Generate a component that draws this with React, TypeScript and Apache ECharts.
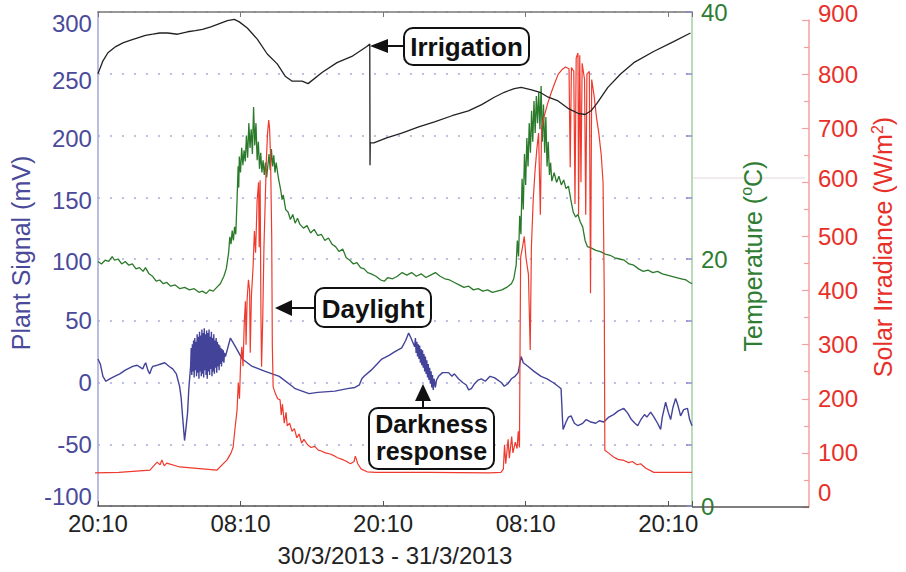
import React, { useEffect, useRef } from "react";
import * as echarts from "echarts";

const FONT = '"Liberation Sans", Arial, Helvetica, sans-serif';

// ---- axis ticks / labels ----
const timeTicks = [0, 12, 24, 36, 48];
const timeLabels = ["20:10", "08:10", "20:10", "08:10", "20:10"];
const xAxisTitle = "30/3/2013 - 31/3/2013";
const plantRange = [-100, 300];
const tempRange = [0, 40];
const solarRange = [0, 900];

// ---- series: [hours since 20:10, value] ----
const blackSignal: [number, number][] = [
  [0, 250], [0.4, 260], [0.84, 267], [1.5, 272], [2.1, 275], [2.7, 277], [3.35, 279], [4.0, 281],
  [4.61, 282], [5.2, 283], [5.87, 283], [6.71, 282], [7.54, 284], [8.2, 285], [8.8, 286], [9.5, 288],
  [10.06, 290], [10.9, 293], [11.48, 294], [11.9, 292], [12.57, 287], [13.41, 278], [14.25, 266],
  [15.09, 258], [15.76, 248], [16.35, 244], [17.18, 244], [17.69, 242], [18.86, 251], [20.12, 259],
  [21.37, 264], [22.63, 272], [22.88, 274], [22.9, 176], [22.92, 194], [23.22, 194], [24.3, 198],
  [25.57, 202], [27.0, 207], [28.33, 211], [29.8, 216], [31.18, 220], [32.3, 225], [33.36, 231],
  [34.2, 235], [35.04, 238], [35.62, 239], [36.5, 237], [37.2, 235], [37.9, 231], [38.73, 228],
  [39.56, 222], [40.4, 218], [41.0, 217], [41.5, 220], [42.0, 226], [42.92, 239], [44.01, 250],
  [45.1, 259], [46.77, 268], [48.45, 276], [49.87, 283],
];

const temperature: [number, number][] = [
  [0, 19.8], [0.3, 19.6], [0.6, 19.9], [0.9, 19.8], [1.2, 20.2], [1.4, 19.9], [1.7, 20.0], [2.0, 19.6],
  [2.3, 19.8], [2.6, 19.5], [2.9, 19.6], [3.2, 19.2], [3.5, 19.3], [3.8, 19.0], [4.0, 19.3], [4.3, 18.8],
  [4.6, 18.6], [4.9, 18.2], [5.2, 18.3], [5.5, 18.0], [5.8, 18.1], [6.1, 17.8], [6.5, 17.9], [6.9, 17.6],
  [7.3, 17.7], [7.7, 17.5], [8.1, 17.6], [8.5, 17.3], [8.8, 17.4], [9.1, 17.2], [9.4, 17.5], [9.7, 17.4],
  [10.0, 17.7], [10.3, 18.0], [10.6, 18.6], [10.8, 19.2], [11.0, 20.5], [11.1, 21.8], [11.2, 21.2],
  [11.3, 22.3], [11.4, 21.5], [11.5, 22.6], [11.6, 22.0], [11.7, 24.5], [11.8, 27.5], [11.85, 25.8],
  [11.9, 28.3], [12.0, 27.0], [12.1, 29.0], [12.2, 27.6], [12.3, 28.8], [12.4, 27.9], [12.5, 30.0],
  [12.6, 28.2], [12.7, 31.0], [12.8, 29.0], [12.9, 30.5], [13.0, 28.5], [13.1, 32.3], [13.2, 29.2],
  [13.3, 31.0], [13.4, 28.0], [13.5, 29.5], [13.6, 27.3], [13.7, 28.6], [13.8, 27.0], [13.9, 28.0],
  [14.0, 26.8], [14.1, 27.8], [14.2, 26.6], [14.4, 28.5], [14.5, 27.2], [14.6, 28.9], [14.7, 27.5],
  [14.8, 28.4], [14.9, 27.0], [15.0, 27.8], [15.2, 26.5], [15.4, 25.5], [15.5, 24.8], [15.6, 25.2],
  [15.8, 24.0], [16.0, 23.8], [16.2, 23.2], [16.4, 23.6], [16.6, 22.9], [16.8, 23.3], [17.0, 22.8],
  [17.3, 22.5], [17.6, 22.7], [17.9, 22.1], [18.2, 22.4], [18.5, 21.9], [18.8, 22.0], [19.1, 21.5],
  [19.4, 21.7], [19.7, 21.2], [20.0, 21.0], [20.3, 20.6], [20.6, 20.8], [20.9, 20.1], [21.2, 19.9],
  [21.5, 19.6], [21.8, 19.7], [22.1, 19.3], [22.4, 19.2], [22.7, 18.9], [23.0, 18.8], [23.4, 18.6],
  [23.8, 18.3], [24.1, 18.2], [24.4, 18.5], [24.8, 18.4], [25.2, 18.6], [25.6, 18.9], [26.0, 18.7],
  [26.4, 18.9], [26.8, 18.6], [27.2, 18.8], [27.6, 18.5], [28.0, 18.7], [28.4, 18.9], [28.8, 18.6],
  [29.2, 18.4], [29.6, 18.3], [30.0, 18.1], [30.4, 17.9], [30.8, 17.7], [31.2, 17.8], [31.6, 17.5],
  [32.0, 17.6], [32.4, 17.4], [32.8, 17.5], [33.2, 17.3], [33.6, 17.4], [34.0, 17.5], [34.4, 17.7],
  [34.8, 18.0], [35.0, 18.4], [35.2, 19.5], [35.3, 21.5], [35.4, 20.2], [35.5, 23.5], [35.6, 22.0],
  [35.7, 26.5], [35.8, 24.0], [35.9, 28.5], [36.0, 26.0], [36.1, 29.8], [36.2, 27.5], [36.3, 31.0],
  [36.4, 28.6], [36.5, 32.0], [36.6, 29.5], [36.7, 32.8], [36.8, 30.2], [36.9, 33.2], [37.0, 31.0],
  [37.1, 33.5], [37.2, 30.5], [37.3, 34.0], [37.4, 29.5], [37.5, 32.5], [37.6, 28.6], [37.7, 31.5],
  [37.8, 27.5], [37.9, 29.5], [38.0, 26.8], [38.1, 27.8], [38.2, 26.3], [38.4, 27.0], [38.6, 26.2],
  [38.8, 26.7], [39.0, 26.0], [39.2, 26.4], [39.4, 25.7], [39.6, 25.9], [39.8, 24.8], [40.0, 23.8],
  [40.2, 23.4], [40.4, 23.6], [40.6, 23.0], [40.8, 22.6], [41.0, 21.5], [41.2, 21.0], [41.5, 20.9],
  [41.9, 20.7], [42.3, 20.6], [42.7, 20.4], [43.1, 20.3], [43.5, 20.1], [43.9, 20.0], [44.3, 19.9],
  [44.7, 19.6], [45.1, 19.5], [45.5, 19.2], [45.9, 19.0], [46.3, 19.1], [46.7, 18.9], [47.1, 19.0],
  [47.5, 18.8], [47.9, 18.7], [48.3, 18.6], [48.7, 18.5], [49.1, 18.4], [49.5, 18.3], [49.8, 18.1],
  [50, 18.0],
];

const irradiance: [number, number][] = [
  [0, 63], [2.0, 64], [4.6, 68], [5.2, 83], [5.45, 78], [5.6, 87], [5.8, 76], [6.0, 81], [7.1, 74],
  [10.2, 68], [11.06, 87], [11.4, 100], [11.57, 111], [11.7, 140], [11.9, 180], [12.0, 230], [12.1, 200],
  [12.2, 270], [12.3, 296], [12.4, 260], [12.5, 340], [12.6, 380], [12.65, 300], [12.74, 383],
  [12.85, 420], [12.95, 400], [13.0, 285], [13.1, 390], [13.24, 444], [13.35, 510], [13.45, 470],
  [13.58, 567], [13.7, 600], [13.75, 480], [13.83, 604], [13.9, 350], [13.95, 259], [14.05, 350],
  [14.15, 480], [14.25, 560], [14.35, 640], [14.45, 690], [14.55, 715], [14.62, 700], [14.7, 650],
  [14.8, 500], [14.85, 300], [14.92, 222], [15.1, 210], [15.3, 200], [15.5, 198], [15.6, 170],
  [15.7, 190], [15.85, 155], [16.0, 175], [16.1, 150], [16.3, 155], [16.5, 140], [16.7, 145],
  [16.9, 128], [17.1, 135], [17.3, 118], [17.5, 125], [17.8, 115], [18.1, 110], [18.4, 112],
  [18.7, 105], [18.9, 104], [19.3, 100], [19.7, 98], [20.0, 95], [20.3, 91], [20.7, 88], [21.0, 85],
  [21.4, 80], [21.7, 84], [21.8, 94], [21.9, 88], [22.0, 80], [22.3, 70], [22.8, 65], [23.5, 64],
  [28, 64], [33.0, 63], [34.0, 64], [34.2, 70], [34.3, 115], [34.4, 80], [34.6, 125], [34.7, 90],
  [34.9, 130], [35.0, 100], [35.2, 120], [35.35, 108], [35.45, 140], [35.55, 110], [35.6, 300],
  [35.65, 462], [35.8, 480], [35.95, 500], [36.1, 460], [36.3, 430], [36.45, 290], [36.55, 480],
  [36.7, 567], [36.85, 620], [37.0, 660], [37.15, 691], [37.3, 540], [37.4, 700], [37.6, 720],
  [37.9, 745], [38.2, 765], [38.5, 783], [38.8, 800], [39.1, 808], [39.4, 813], [39.7, 810],
  [39.8, 628], [39.9, 812], [40.1, 805], [40.2, 560], [40.3, 830], [40.45, 839], [40.5, 540],
  [40.6, 835], [40.7, 600], [40.8, 820], [41.0, 790], [41.1, 540], [41.2, 800], [41.4, 805],
  [41.5, 395], [41.6, 790], [41.8, 760], [42.0, 720], [42.2, 690], [42.4, 650], [42.55, 600],
  [42.65, 400], [42.7, 105], [43.0, 100], [43.4, 93], [43.8, 88], [44.3, 86], [44.7, 82], [45.0, 84],
  [45.4, 78], [45.7, 80], [46.1, 72], [46.8, 64], [50, 64],
];

const plantSignal: [number, number][] = [
  [0, 19], [0.2, 15], [0.42, 5], [0.67, 1], [1.0, 3], [1.4, 5], [1.84, 7], [2.3, 10], [2.93, 13],
  [3.3, 14], [3.6, 12], [3.77, 11], [3.9, 14], [4.02, 16], [4.2, 10], [4.36, 7], [4.5, 11], [4.61, 13],
  [5.0, 14], [5.3, 15], [5.62, 16], [6.0, 13], [6.29, 11], [6.6, 7], [6.87, -3], [7.0, -12],
  [7.12, -27], [7.29, -47], [7.4, -38], [7.54, -25], [7.65, -5],
  [7.8, 13], [7.85, 28], [7.9, 6], [7.95, 31], [8.0, 9], [8.05, 34], [8.1, 4], [8.15, 36], [8.2, 10],
  [8.25, 33], [8.3, 5], [8.35, 39], [8.4, 8], [8.45, 37], [8.5, 3], [8.55, 41], [8.6, 9], [8.65, 38],
  [8.7, 5], [8.75, 43], [8.8, 7], [8.85, 40], [8.9, 4], [8.95, 44], [9.0, 10], [9.05, 39], [9.1, 6],
  [9.15, 42], [9.2, 3], [9.25, 40], [9.3, 9], [9.35, 43], [9.4, 6], [9.45, 37], [9.5, 11], [9.55, 41],
  [9.6, 5], [9.65, 36], [9.7, 9], [9.75, 39], [9.8, 7], [9.85, 34], [9.9, 12], [9.95, 36], [10.0, 8],
  [10.05, 33], [10.1, 13], [10.15, 31], [10.2, 10], [10.25, 30], [10.3, 15], [10.35, 28], [10.4, 13],
  [10.45, 27], [10.5, 17], [10.55, 26], [10.6, 16], [10.65, 24], [10.73, 21],
  [11.15, 36], [11.57, 29], [12.15, 19], [12.99, 13], [14.08, 9], [15.26, 5],
  [16.35, -3], [16.6, -5], [17.77, -9], [18.5, -8], [19.95, -7], [21.0, -5], [21.63, -4], [22.0, -2],
  [22.21, 3], [22.4, 5], [23.0, 10], [23.89, 19], [24.5, 22], [25.0, 25], [25.57, 28], [25.9, 34],
  [26.15, 40], [26.3, 37],
  [26.66, 29], [26.72, 36], [26.78, 24], [26.84, 33], [26.9, 21], [26.96, 31], [27.02, 19], [27.08, 30],
  [27.14, 16], [27.2, 27], [27.26, 14], [27.32, 26], [27.38, 12], [27.44, 23], [27.5, 9], [27.56, 21],
  [27.62, 7], [27.68, 18], [27.74, 4], [27.8, 15], [27.86, 2], [27.92, 12], [27.98, -1], [28.04, 9],
  [28.1, -4], [28.16, 6], [28.22, -6], [28.3, 3], [28.4, -4], [28.5, 2], [28.67, 5],
  [29.0, 8], [29.51, 8], [29.8, 5], [30.0, 7],
  [30.34, 3], [30.7, 0], [31.0, -2], [31.2, -6], [31.43, -5], [31.7, -1], [32.0, 2], [32.27, 3],
  [32.6, 1], [33.0, 5], [33.36, 4], [33.95, 0], [34.2, -3], [34.5, -1], [34.8, 3], [35.1, 5],
  [35.37, 8], [35.62, 21], [35.8, 16], [36.21, 13], [36.7, 9], [37.3, 5], [37.8, 3], [38.3, 0],
  [38.73, -3], [38.98, -5], [39.1, -30], [39.15, -38], [39.4, -32], [39.6, -28], [39.82, -27],
  [40.1, -33], [40.4, -35], [40.8, -33], [41.1, -30], [41.49, -32], [41.9, -33], [42.2, -31],
  [42.58, -32], [43.0, -28], [43.4, -26], [43.8, -23], [44.26, -21], [44.6, -25], [44.9, -30],
  [45.2, -33], [45.43, -35], [45.7, -30], [46.0, -26], [46.2, -28], [46.52, -24], [46.8, -28],
  [47.1, -33], [47.36, -38], [47.5, -28], [47.78, -16], [48.0, -24], [48.2, -30], [48.4, -20],
  [48.62, -13], [48.8, -18], [49.04, -27], [49.3, -22], [49.62, -21], [49.8, -30], [50, -35],
];

const annotations = {
  irrigation: "Irrigation",
  daylight: "Daylight",
  darkness: ["Darkness", "response"],
};

// label nudges (style only)
const plantLabelStyle: Record<string, string> = { "300": "d11", "250": "d7", "200": "d3", "150": "d3", "100": "d2", "-100": "u10" };
const solarLabelStyle: Record<string, string> = { "900": "u7", "600": "u4", "0": "u15" };

const BLUE_TXT = "#4a4a9a";
const GREEN_TXT = "#2e7d32";
const RED_TXT = "#e8302a";

function nudges(color: string) {
  const base = { fontSize: 24, color, fontFamily: FONT };
  return {
    n: { ...base },
    d11: { ...base, padding: [22, 0, 0, 0] },
    d7: { ...base, padding: [14, 0, 0, 0] },
    d3: { ...base, padding: [6, 0, 0, 0] },
    d2: { ...base, padding: [4, 0, 0, 0] },
    u4: { ...base, padding: [0, 0, 8, 0] },
    u7: { ...base, padding: [0, 0, 14, 0] },
    u10: { ...base, padding: [0, 0, 20, 0] },
    u15: { ...base, padding: [0, 0, 30, 0] },
  };
}

function box(x: number, y: number, w: number, h: number) {
  return {
    type: "rect",
    shape: { x, y, width: w, height: h, r: 9 },
    style: { fill: "#fff", stroke: "#111", lineWidth: 2 },
    z: 100,
  };
}
function label(x: number, y: number, text: string, size = 26) {
  return {
    type: "text",
    x,
    y,
    style: {
      text, fill: "#111", font: `bold ${size}px ${FONT}`,
      align: "center", verticalAlign: "middle",
    },
    z: 101,
  };
}

export default function App() {
  const ref = useRef<HTMLDivElement>(null);
  useEffect(() => {
    if (!ref.current) return;
    const chart = echarts.init(ref.current, undefined, { renderer: "svg" });
    const option: any = {
      animation: false,
      backgroundColor: "#fff",
      textStyle: { fontFamily: FONT },
      grid: [
        { left: 95, right: 214, top: 11, bottom: 65 },
        { left: 95, right: 214, top: 20, bottom: 65 },
      ],
      xAxis: [
        {
          type: "value", gridIndex: 0, min: 0, max: 50, interval: 12, position: "bottom",
          axisLine: { onZero: false, lineStyle: { color: "#555", width: 1.5 } },
          axisTick: { inside: true, length: 5, lineStyle: { color: "#555" } },
          axisLabel: {
            fontSize: 24, color: "#222", margin: 5, fontFamily: FONT,
            formatter: (v: number) => { const i = timeTicks.indexOf(v); return i >= 0 ? timeLabels[i] : ""; },
          },
          splitLine: { show: false },
          name: xAxisTitle, nameLocation: "middle", nameGap: 37,
          nameTextStyle: { fontSize: 24, color: "#222", fontFamily: FONT },
        },
        {
          type: "value", gridIndex: 0, min: 0, max: 50, interval: 12, position: "top",
          axisLine: { onZero: false, lineStyle: { color: "#777", width: 1.5 } },
          axisTick: { inside: true, length: 5, lineStyle: { color: "#777" } },
          axisLabel: { show: false }, splitLine: { show: false },
        },
        { type: "value", gridIndex: 1, min: 0, max: 50, show: false, axisLine: { onZero: false } },
      ],
      yAxis: [
        {
          type: "value", gridIndex: 0, min: plantRange[0], max: plantRange[1], interval: 50, position: "left",
          axisLine: { show: true, onZero: false, lineStyle: { color: "#a6a6d6", width: 1.5 } },
          axisTick: { show: false },
          axisLabel: {
            margin: 6, fontSize: 24, color: BLUE_TXT, fontFamily: FONT,
            formatter: (v: number) => `{${plantLabelStyle[String(v)] || "n"}|${v}}`,
            rich: nudges(BLUE_TXT),
          },
          splitLine: { show: true, lineStyle: { color: "#a8a8dc", width: 1.5, type: [2, 10] } },
          name: "Plant Signal (mV)", nameLocation: "middle", nameRotate: 90, nameGap: 45,
          nameTextStyle: { fontSize: 25, color: BLUE_TXT, fontFamily: FONT, padding: [0, 0, 0, 12] },
        },
        {
          type: "value", gridIndex: 0, min: tempRange[0], max: tempRange[1], interval: 20, position: "right",
          axisLine: { show: true, onZero: false, lineStyle: { color: "#9fd09f", width: 1.5 } },
          axisTick: { show: false },
          axisLabel: { margin: 9, fontSize: 24, color: GREEN_TXT, fontFamily: FONT },
          splitLine: { show: false },
          name: "{n|Temperature (}{s|o}{n|C)}", nameLocation: "middle", nameRotate: 90, nameGap: 28,
          nameTextStyle: {
            fontSize: 25, color: GREEN_TXT, fontFamily: FONT, padding: [0, 0, 0, 6],
            rich: {
              n: { fontSize: 25, color: GREEN_TXT, fontFamily: FONT, lineHeight: 28 },
              s: { fontSize: 16, color: GREEN_TXT, fontFamily: FONT, lineHeight: 18, verticalAlign: "top" },
            },
          },
        },
        {
          type: "value", gridIndex: 1, min: solarRange[0], max: solarRange[1], interval: 100,
          position: "right", offset: 117,
          axisLine: { show: true, onZero: false, lineStyle: { color: "#f5a0a0", width: 1.5 } },
          axisTick: { show: true, inside: true, length: 7, lineStyle: { color: "#f5a0a0", width: 1.2 } },
          minorTick: { show: true, splitNumber: 2, length: 5, lineStyle: { color: "#f5a0a0", width: 1.2 } },
          axisLabel: {
            margin: 9, fontSize: 24, color: RED_TXT, fontFamily: FONT,
            formatter: (v: number) => `{${solarLabelStyle[String(v)] || "n"}|${v}}`,
            rich: nudges(RED_TXT),
          },
          splitLine: { show: false },
          name: "{n|Solar Irradiance (W/m}{s|2}{n|)}", nameLocation: "middle", nameRotate: 90, nameGap: 60,
          nameTextStyle: {
            fontSize: 25, color: RED_TXT, fontFamily: FONT, padding: [0, 0, 0, 33],
            rich: {
              n: { fontSize: 25, color: RED_TXT, fontFamily: FONT, lineHeight: 28 },
              s: { fontSize: 16, color: RED_TXT, fontFamily: FONT, lineHeight: 18, verticalAlign: "top" },
            },
          },
        },
        {
          type: "value", gridIndex: 0, min: plantRange[0], max: plantRange[1], interval: 50, position: "right",
          axisLine: { show: false, onZero: false },
          axisTick: { show: true, inside: true, length: 6, lineStyle: { color: "#8c8cce", width: 1.5 } },
          axisLabel: { show: false }, splitLine: { show: false },
        },
      ],
      series: [
        {
          type: "line", name: "Temperature", xAxisIndex: 0, yAxisIndex: 1, data: temperature,
          symbol: "none", lineStyle: { color: "#2b7a2b", width: 1.3 }, z: 2,
        },
        {
          type: "line", name: "Plant Signal", xAxisIndex: 0, yAxisIndex: 0, data: plantSignal,
          symbol: "none", lineStyle: { color: "#43439a", width: 1.4 }, z: 3,
        },
        {
          type: "line", name: "Solar Irradiance", xAxisIndex: 2, yAxisIndex: 2, data: irradiance,
          symbol: "none", lineStyle: { color: "#ef3a2d", width: 1.2 }, z: 4,
        },
        {
          type: "line", name: "Signal 2", xAxisIndex: 0, yAxisIndex: 0, data: blackSignal,
          symbol: "none", lineStyle: { color: "#222", width: 1.3 }, z: 5,
        },
      ],
      graphic: [
        { type: "line", shape: { x1: 692, y1: 507, x2: 809, y2: 507 }, style: { stroke: "#555", lineWidth: 1.5 }, z: 10 },
        { type: "line", shape: { x1: 693, y1: 178, x2: 805, y2: 178 }, style: { stroke: "#e6d6d6", lineWidth: 1 }, z: 0 },
        // Irrigation
        { type: "line", shape: { x1: 386, y1: 46, x2: 404, y2: 46 }, style: { stroke: "#111", lineWidth: 2 }, z: 100 },
        { type: "polygon", shape: { points: [[370, 46], [388, 39], [388, 53]] }, style: { fill: "#111" }, z: 100 },
        box(404, 28, 125, 37),
        label(466.5, 47, annotations.irrigation),
        // Daylight
        { type: "line", shape: { x1: 290, y1: 308, x2: 315, y2: 308 }, style: { stroke: "#111", lineWidth: 2 }, z: 100 },
        { type: "polygon", shape: { points: [[275, 308], [292, 300], [292, 316]] }, style: { fill: "#111" }, z: 100 },
        box(315, 288, 116, 39),
        label(373, 308.5, annotations.daylight),
        // Darkness response
        { type: "line", shape: { x1: 423, y1: 399, x2: 423, y2: 408 }, style: { stroke: "#111", lineWidth: 2 }, z: 100 },
        { type: "polygon", shape: { points: [[423, 384], [415, 401], [431, 401]] }, style: { fill: "#111" }, z: 100 },
        box(369, 408, 125, 61),
        label(431.5, 424, annotations.darkness[0], 25),
        label(431.5, 451, annotations.darkness[1], 25),
      ],
    };
    chart.setOption(option);
    return () => chart.dispose();
  }, []);
  return (
    <div
      ref={ref}
      style={{ position: "fixed", left: 0, top: 0, width: 906, height: 572, background: "#fff" }}
    />
  );
}
